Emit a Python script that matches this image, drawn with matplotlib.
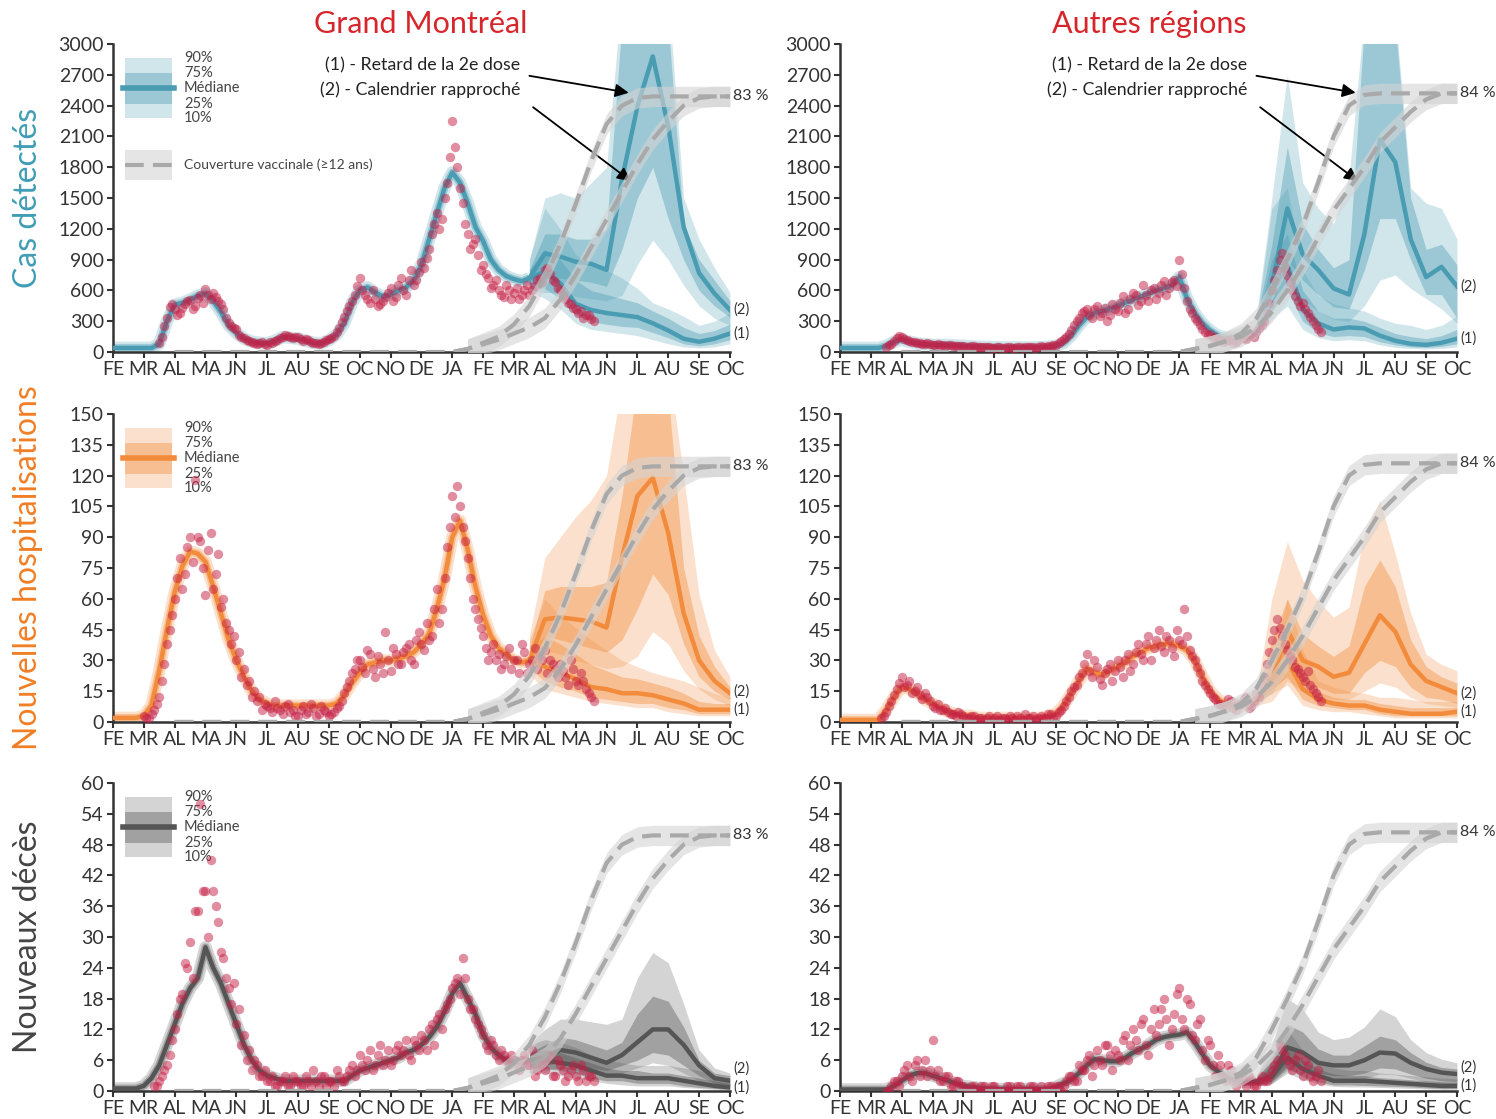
import numpy as np
import matplotlib
matplotlib.use("Agg")
import matplotlib.pyplot as plt
from matplotlib.patches import Rectangle

plt.rcParams['font.family'] = ['Lato', 'DejaVu Sans']

# x axis: months since 1 Feb 2020 (FE 2020 = 0 ... OC 2021 = 20)
months = ['FE', 'MR', 'AL', 'MA', 'JN', 'JL', 'AU', 'SE', 'OC', 'NO', 'DE', 'JA',
          'FE', 'MR', 'AL', 'MA', 'JN', 'JL', 'AU', 'SE', 'OC']
fit_x = np.arange(55) * 0.25          # model fit, weekly, up to mid MR 2021
scen_x = 13.5 + np.arange(14) * 0.5   # scenarios, mid MR 2021 -> OC 2021
cov_x = 2 + np.arange(37) * 0.5       # vaccine coverage

# ---------------- Cas détectés - Grand Montréal
cas_mtl_fit = [40, 40, 40, 40, 40, 40,
               80, 300, 460, 480, 510, 550, 570, 500, 390, 260,
               185, 130, 100, 90, 85, 110, 145, 140, 130, 110,
               90, 85, 115, 170, 280, 480, 600, 630, 580, 540,
               560, 600, 630, 700, 850, 1100, 1350, 1600, 1750, 1650,
               1450, 1220, 1080, 900, 800, 740, 710, 690, 720]
# observed cases, two interleaved series (every ~5 days each)
cas_mtl_obs = [90, 250, 440, 420, 380, 470, 510, 450, 560, 610,
               520, 540, 470, 330, 250, 220, 150, 120, 100, 80,
               95, 70, 90, 120, 150, 160, 140, 145, 110, 120,
               90, 80, 100, 130, 160, 230, 340, 450, 560, 720,
               560, 480, 520, 470, 540, 620, 540, 720, 560, 800,
               700, 880, 920, 1150, 1350, 1300, 1650, 2250, 1800, 1450,
               1150, 1050, 950, 850, 720, 650, 600, 540, 600, 580,
               520, 600, 560, 640, 720, 800, 760, 680, 600, 520,
               470, 420, 400, 360, 320]
cas_mtl_obs2 = [150, 330, 470, 360, 430, 500, 420, 530, 480, 560,
                580, 500, 420, 280, 230, 170, 140, 110, 85, 90,
                75, 100, 110, 140, 165, 150, 150, 125, 130, 100,
                85, 90, 115, 140, 200, 290, 400, 500, 640, 600,
                520, 600, 450, 500, 580, 500, 650, 600, 700, 650,
                780, 820, 1000, 1250, 1200, 1500, 1900, 2000, 1600, 1250,
                1000, 1100, 800, 760, 620, 700, 560, 650, 520, 620,
                560, 650, 600, 700, 680, 820, 700, 620, 560, 480,
                430, 380, 330, 360, 300]
# rows: p10, p25, median, p75, p90
cas_mtl_s1 = [[600, 520, 420, 280, 220, 200, 180, 160, 120, 80, 50, 40, 50, 80],
              [660, 620, 520, 360, 300, 270, 250, 240, 190, 140, 80, 60, 80, 120],
              [720, 780, 670, 470, 410, 380, 360, 340, 280, 210, 130, 100, 130, 180],
              [800, 1000, 900, 700, 600, 560, 520, 480, 400, 330, 240, 180, 210, 270],
              [900, 1400, 1200, 950, 850, 800, 720, 620, 480, 420, 350, 260, 300, 380]]
cas_mtl_s2 = [[600, 580, 580, 540, 520, 500, 550, 850, 1090, 900, 650, 450, 330, 260],
              [660, 700, 720, 700, 680, 640, 1000, 1500, 1800, 1300, 900, 600, 450, 340],
              [720, 960, 930, 880, 860, 800, 1680, 2390, 2880, 2200, 1220, 770, 570, 410],
              [800, 1150, 1150, 1100, 1100, 1200, 3200, 3800, 3800, 3200, 1250, 900, 700, 500],
              [900, 1500, 1550, 1500, 1650, 1800, 3500, 4000, 4000, 3500, 1500, 1100, 820, 580]]

# ---------------- Cas détectés - Autres régions
cas_reg_fit = [40, 40, 40, 40, 40, 40,
               60, 100, 120, 100, 85, 75, 70, 70, 68, 65,
               60, 55, 52, 50, 48, 45, 45, 45, 45, 45,
               48, 50, 60, 90, 160, 260, 340, 380, 400, 420,
               450, 480, 510, 540, 570, 600, 620, 650, 730, 520,
               380, 280, 210, 160, 140, 130, 140, 160, 200]
cas_reg_obs = [50, 80, 140, 150, 120, 100, 90, 80, 85, 70,
               75, 65, 70, 60, 55, 60, 50, 55, 45, 50,
               45, 40, 45, 40, 45, 40, 50, 45, 50, 40,
               55, 45, 60, 70, 110, 150, 210, 300, 380, 420,
               330, 450, 380, 300, 470, 400, 550, 420, 580, 460,
               650, 500, 620, 580, 690, 620, 700, 900, 620, 420,
               330, 260, 200, 180, 150, 120, 110, 130, 100, 150,
               130, 180, 200, 260, 380, 600, 800, 960, 750, 600,
               500, 480, 380, 300, 220]
cas_reg_obs2 = [70, 110, 160, 130, 110, 95, 85, 75, 80, 65,
                70, 60, 65, 55, 60, 50, 55, 45, 50, 45,
                40, 45, 40, 45, 40, 45, 40, 50, 45, 50,
                50, 55, 65, 90, 130, 180, 260, 330, 400, 360,
                420, 350, 430, 360, 420, 480, 380, 520, 560, 500,
                560, 600, 520, 650, 560, 680, 640, 760, 500, 380,
                300, 220, 170, 140, 130, 100, 120, 90, 120, 140,
                160, 150, 230, 300, 480, 700, 900, 820, 680, 550,
                450, 420, 340, 260, 200]
cas_reg_s1 = [[150, 320, 450, 220, 140, 110, 120, 110, 70, 45, 35, 30, 35, 50],
              [170, 400, 600, 300, 190, 150, 160, 150, 100, 70, 50, 45, 55, 80],
              [200, 600, 850, 420, 280, 220, 240, 230, 160, 110, 80, 70, 90, 130],
              [250, 900, 1150, 600, 400, 330, 330, 300, 240, 180, 150, 130, 160, 220],
              [300, 1400, 1600, 800, 550, 470, 430, 400, 330, 280, 260, 220, 260, 350]]
cas_reg_s2 = [[150, 380, 650, 500, 400, 320, 300, 450, 700, 750, 620, 520, 420, 280],
              [170, 450, 900, 700, 560, 440, 420, 800, 1300, 1300, 900, 560, 560, 330],
              [200, 650, 1400, 950, 800, 620, 560, 1150, 2070, 1850, 1100, 730, 830, 640],
              [300, 1050, 2000, 1250, 1000, 820, 900, 3200, 3400, 3200, 1500, 1000, 1050, 850],
              [350, 1500, 2700, 1650, 1400, 1250, 1700, 3300, 3600, 3300, 1600, 1450, 1400, 1100]]

# ---------------- Nouvelles hospitalisations - Grand Montréal
hos_mtl_fit = [2, 2, 2, 2, 3, 8,
               25, 45, 63, 76, 83, 82, 78, 66, 53, 40,
               30, 22, 15, 11, 9, 8, 8, 8, 8, 8,
               8, 8, 8, 9, 13, 19, 24, 28, 29, 30,
               30, 31, 32, 34, 38, 43, 55, 70, 90, 98,
               84, 66, 52, 42, 36, 33, 30, 29, 30]
hos_mtl_obs = [3, 2, 6, 12, 28, 45, 60, 80, 72, 90,
               118, 88, 62, 92, 72, 56, 48, 38, 30, 22,
               18, 12, 10, 6, 8, 5, 7, 4, 9, 6,
               3, 8, 5, 7, 4, 6, 3, 5, 8, 14,
               20, 26, 30, 24, 33, 22, 28, 44, 25, 33,
               28, 36, 30, 40, 38, 48, 42, 65, 55, 85,
               110, 115, 95, 80, 60, 50, 42, 30, 38, 33,
               28, 36, 30, 24, 34, 28, 36, 32, 35, 30,
               26, 28, 22, 30, 20, 24, 16, 12]
hos_mtl_obs2 = [2, 4, 9, 20, 38, 52, 70, 65, 85, 78,
                90, 75, 84, 65, 82, 60, 45, 42, 34, 26,
                20, 15, 12, 9, 7, 10, 6, 8, 5, 3,
                6, 4, 9, 3, 8, 5, 4, 7, 10, 17,
                24, 30, 27, 35, 26, 32, 24, 30, 36, 28,
                34, 38, 28, 44, 35, 40, 55, 48, 70, 95,
                100, 105, 88, 70, 55, 46, 36, 34, 30, 26,
                32, 26, 30, 38, 24, 30, 26, 30, 24, 28,
                22, 25, 18, 26, 18, 20, 14, 10]
hos_mtl_s1 = [[23, 16, 14, 12, 10, 9, 8, 7, 7, 5, 4, 3, 3, 3],
              [26, 20, 17, 15, 12, 11, 10, 9, 9, 7, 6, 4, 4, 4],
              [30, 27, 24, 21, 17, 16, 14, 14, 13, 11, 9, 6, 6, 6],
              [35, 42, 38, 33, 28, 25, 22, 21, 19, 17, 14, 10, 9, 9],
              [40, 60, 52, 46, 40, 35, 30, 27, 24, 22, 20, 17, 14, 12]]
hos_mtl_s2 = [[24, 35, 33, 30, 28, 26, 27, 32, 44, 38, 25, 16, 11, 8],
              [27, 42, 40, 38, 36, 34, 40, 55, 72, 62, 38, 22, 15, 11],
              [30, 50, 51, 50, 49, 46, 80, 110, 119, 92, 53, 30, 20, 14],
              [36, 64, 66, 66, 66, 68, 110, 165, 170, 160, 75, 42, 27, 17],
              [42, 80, 90, 100, 108, 120, 165, 180, 180, 175, 120, 62, 35, 22]]

# ---------------- Nouvelles hospitalisations - Autres régions
hos_reg_fit = [1, 1, 1, 1, 1, 1,
               6, 12, 17, 16, 14, 11, 9, 7, 5, 4,
               3, 3, 2, 2, 2, 2, 2, 2, 2, 2,
               2, 3, 4, 8, 14, 20, 26, 24, 23, 25,
               27, 29, 32, 34, 36, 37, 38, 38, 37, 35,
               30, 22, 15, 11, 9, 8, 8, 9, 11]
hos_reg_obs = [2, 5, 10, 16, 22, 18, 14, 17, 11, 12,
               8, 9, 6, 5, 4, 5, 3, 2, 3, 2,
               1, 3, 2, 1, 2, 3, 1, 2, 4, 2,
               1, 3, 2, 4, 3, 6, 10, 15, 18, 24,
               33, 22, 27, 18, 26, 20, 30, 22, 33, 28,
               38, 30, 42, 36, 45, 34, 40, 32, 40, 55,
               35, 30, 24, 18, 14, 11, 9, 7, 10, 6,
               9, 12, 8, 14, 18, 28, 40, 50, 42, 35,
               30, 26, 22, 25, 16, 12]
hos_reg_obs2 = [3, 8, 13, 19, 17, 20, 15, 13, 14, 10,
                7, 6, 7, 4, 3, 4, 2, 3, 1, 2,
                2, 1, 3, 2, 1, 2, 3, 1, 2, 3,
                2, 2, 4, 2, 5, 8, 12, 17, 22, 28,
                25, 30, 21, 24, 28, 25, 27, 30, 25, 34,
                33, 38, 30, 40, 37, 42, 36, 45, 38, 42,
                32, 27, 20, 16, 12, 9, 8, 11, 7, 9,
                11, 7, 10, 12, 22, 34, 45, 46, 38, 32,
                27, 24, 20, 18, 14, 10]
hos_reg_s1 = [[9, 14, 18, 8, 6, 5, 5, 4, 3, 2, 2, 2, 2, 2],
              [10, 16, 22, 11, 8, 7, 6, 6, 4, 3, 3, 3, 3, 3],
              [11, 20, 30, 16, 11, 9, 8, 8, 6, 5, 4, 4, 4, 5],
              [13, 24, 45, 22, 15, 12, 11, 11, 9, 8, 7, 7, 7, 7],
              [15, 30, 60, 35, 20, 17, 15, 14, 12, 12, 11, 10, 10, 10]]
hos_reg_s2 = [[8, 10, 20, 15, 13, 11, 11, 15, 19, 17, 12, 9, 8, 7],
              [10, 14, 27, 19, 17, 14, 14, 24, 30, 27, 17, 12, 11, 9],
              [11, 20, 45, 30, 27, 22, 24, 38, 52, 44, 28, 20, 17, 14],
              [13, 40, 60, 43, 37, 32, 37, 66, 79, 66, 40, 27, 22, 19],
              [15, 60, 88, 69, 59, 51, 56, 92, 108, 82, 53, 33, 28, 25]]

# ---------------- Nouveaux décès - Grand Montréal
dec_mtl_fit = [0.5, 0.5, 0.5, 0.5, 1, 2.5,
               5, 9, 13, 17, 20, 22, 28, 24, 21, 17,
               13, 9, 6, 4, 3, 2.5, 2, 2, 2, 2,
               2, 2, 2, 2, 2, 3, 4, 4.5, 5, 5.5,
               6, 6.5, 7.5, 8, 9, 10.5, 12.5, 15.5, 19, 21,
               18, 15, 11, 8.5, 7, 6, 5.5, 5.5, 6]
dec_mtl_obs = [1, 2, 4, 7, 12, 18, 25, 29, 35, 56,
               39, 45, 36, 27, 22, 17, 13, 9, 6, 4,
               5, 3, 2, 3, 1, 2, 1, 3, 2, 1,
               2, 4, 1, 3, 2, 1, 3, 2, 4, 3,
               7, 4, 8, 5, 9, 6, 5, 8, 7, 10,
               6, 9, 11, 8, 13, 14, 12, 17, 20, 22,
               26, 18, 16, 13, 11, 8, 9, 6, 7, 5,
               6, 4, 7, 5, 3, 6, 4, 7, 3, 5,
               2, 4, 3, 5, 2, 3]
dec_mtl_obs2 = [1, 3, 5, 10, 15, 19, 24, 22, 35, 39,
                30, 39, 33, 26, 20, 21, 16, 11, 8, 6,
                3, 4, 2, 1, 2, 3, 1, 2, 1, 3,
                1, 2, 3, 1, 2, 4, 2, 3, 5, 4,
                5, 6, 4, 7, 5, 8, 6, 9, 8, 7,
                10, 8, 10, 12, 9, 15, 16, 18, 21, 19,
                22, 16, 14, 12, 9, 10, 7, 8, 6, 7,
                5, 6, 5, 8, 4, 5, 6, 3, 6, 4,
                3, 5, 2, 4, 3, 2]
dec_mtl_s1 = [[3.5, 3.5, 3, 2.5, 2, 1.5, 1.2, 1, 1, 1, 0.7, 0.5, 0.3, 0.2],
              [4.5, 4.5, 4, 3.5, 2.5, 2, 2, 1.5, 1.5, 1.5, 1, 0.7, 0.5, 0.3],
              [6, 6, 5.5, 5, 4, 3, 3, 2.5, 2.5, 2.5, 2, 1.5, 1, 0.7],
              [7.5, 8, 7.5, 6.5, 5.5, 4.5, 4, 4, 3.5, 3.5, 3, 2.5, 2, 1.5],
              [9, 10, 9.5, 8.5, 7, 6, 5.5, 5, 5, 5, 4.5, 4, 3, 2.5]]
dec_mtl_s2 = [[3.5, 4, 4.5, 4, 3.5, 3, 3.5, 4.5, 5.5, 5, 3.5, 2, 1, 0.5],
              [4.5, 5, 5.5, 5, 4.5, 4, 5, 6, 7.5, 7, 5, 3, 1.5, 1],
              [6, 6.5, 8, 7.5, 6.5, 5.5, 7, 9.5, 12, 12, 9, 5, 2.5, 2],
              [7.5, 9, 10.5, 10, 9, 8, 9.5, 15, 18.5, 17.5, 12.5, 6, 3.5, 3],
              [9, 12, 14, 14, 13.5, 13, 14, 22, 27, 25, 17, 8, 4.5, 3.5]]

# ---------------- Nouveaux décès - Autres régions
dec_reg_fit = [0.3, 0.3, 0.3, 0.3, 0.3, 0.3,
               0.3, 1, 2, 3, 3.5, 3.5, 3, 2.5, 2, 1.5,
               1, 0.8, 0.6, 0.5, 0.4, 0.4, 0.4, 0.4, 0.4, 0.4,
               0.4, 0.4, 0.8, 1.5, 2.2, 3.5, 5, 6.2, 6, 5.8,
               5.8, 6.5, 7.5, 8.2, 9, 10, 10.5, 10.8, 11, 11.4,
               9.5, 7.2, 5, 3.8, 2.8, 2.2, 1.9, 1.7, 1.8]
dec_reg_obs = [0, 1, 2, 3, 5, 2, 6, 4, 3, 10,
               4, 2, 3, 1, 2, 1, 0, 1, 0, 1,
               0, 1, 0, 0, 1, 0, 1, 0, 1, 0,
               1, 0, 1, 1, 0, 2, 3, 2, 4, 6,
               3, 8, 5, 9, 4, 7, 10, 6, 12, 8,
               14, 7, 16, 13, 18, 9, 15, 20, 12, 17,
               10, 14, 6, 9, 3, 5, 2, 4, 1, 3,
               1, 2, 1, 3, 2, 4, 6, 8, 6, 4,
               7, 3, 5, 2, 4]
dec_reg_obs2 = [0, 2, 1, 4, 3, 5, 3, 6, 4, 3,
                2, 3, 1, 2, 1, 0, 1, 0, 1, 0,
                1, 0, 0, 1, 0, 1, 0, 0, 1, 0,
                0, 1, 0, 1, 1, 3, 2, 5, 4, 7,
                5, 6, 9, 7, 8, 6, 11, 9, 10, 13,
                9, 12, 11, 16, 14, 12, 19, 14, 18, 11,
                13, 8, 10, 5, 7, 3, 5, 2, 3, 2,
                3, 1, 2, 2, 3, 5, 9, 7, 5, 6,
                4, 6, 3, 3, 2]
dec_reg_s1 = [[1, 1.4, 3.5, 2.2, 1.4, 0.9, 0.8, 0.8, 0.7, 0.6, 0.5, 0.4, 0.3, 0.3],
              [1.2, 1.8, 4.5, 2.8, 1.8, 1.2, 1.2, 1.1, 1, 0.9, 0.8, 0.6, 0.5, 0.5],
              [1.8, 2.8, 6.5, 4.3, 3, 2, 2, 2, 1.8, 1.6, 1.4, 1.2, 1, 1],
              [2.5, 5, 9, 6, 4.3, 3.3, 3, 3, 2.6, 2.4, 2.2, 2, 1.8, 1.7],
              [3, 7, 12, 8, 6, 4.5, 4, 4, 3.5, 3.3, 3, 2.8, 2.5, 2.4]]
dec_reg_s2 = [[1, 1.5, 4, 3.5, 2.7, 2.2, 2.2, 2.5, 3.3, 3.2, 2.5, 1.8, 1.4, 1.2],
              [1.2, 2, 5, 4.5, 3.5, 3, 3, 3.5, 4.5, 4.3, 3.3, 2.5, 2, 1.8],
              [1.8, 3, 8.5, 7.5, 5.5, 5, 5, 6, 7.5, 7.3, 5.5, 4.3, 3.6, 3.3],
              [2.5, 6, 13, 11.5, 8.2, 7, 7, 8.8, 10.7, 10, 7.5, 5.6, 4.6, 4.3],
              [3, 9, 18, 16, 11.5, 10, 10.5, 12.5, 16, 14.5, 10, 7.5, 6.2, 5.5]]

# ---------------- Couverture vaccinale (>=12 ans), fraction
cov_mtl_1 = [0.0] * 19 + [0.01, 0.03, 0.05, 0.09, 0.15, 0.24, 0.35, 0.48, 0.62,
                          0.74, 0.80, 0.825, 0.83, 0.83, 0.83, 0.83, 0.83, 0.83]
cov_mtl_2 = [0.0] * 19 + [0.01, 0.025, 0.04, 0.06, 0.08, 0.11, 0.17, 0.25, 0.34,
                          0.43, 0.52, 0.61, 0.69, 0.75, 0.80, 0.825, 0.83, 0.83]
cov_reg_1 = [0.0] * 19 + [0.01, 0.02, 0.035, 0.06, 0.11, 0.20, 0.30, 0.41, 0.55,
                          0.70, 0.80, 0.835, 0.84, 0.84, 0.84, 0.84, 0.84, 0.84]
cov_reg_2 = [0.0] * 19 + [0.01, 0.02, 0.035, 0.05, 0.08, 0.13, 0.20, 0.28, 0.37,
                          0.46, 0.53, 0.60, 0.68, 0.73, 0.78, 0.82, 0.84, 0.84]
cov_spread = 0.033   # half-width of the coverage uncertainty band

rows = [  # ymax, step, colour, label colour, label
    (3000, 300, '#4a9cb2', '#3f9db5', 'Cas détectés'),
    (150, 15, '#f28b3b', '#f07f26', 'Nouvelles hospitalisations'),
    (60, 6, '#555555', '#444444', 'Nouveaux décès'),
]
panels = [
    (0, 0, cas_mtl_fit, cas_mtl_obs, cas_mtl_obs2, 1.5, cas_mtl_s1, cas_mtl_s2, cov_mtl_1, cov_mtl_2),
    (0, 1, cas_reg_fit, cas_reg_obs, cas_reg_obs2, 1.5, cas_reg_s1, cas_reg_s2, cov_reg_1, cov_reg_2),
    (1, 0, hos_mtl_fit, hos_mtl_obs, hos_mtl_obs2, 1.0, hos_mtl_s1, hos_mtl_s2, cov_mtl_1, cov_mtl_2),
    (1, 1, hos_reg_fit, hos_reg_obs, hos_reg_obs2, 4 / 3, hos_reg_s1, hos_reg_s2, cov_reg_1, cov_reg_2),
    (2, 0, dec_mtl_fit, dec_mtl_obs, dec_mtl_obs2, 4 / 3, dec_mtl_s1, dec_mtl_s2, cov_mtl_1, cov_mtl_2),
    (2, 1, dec_reg_fit, dec_reg_obs, dec_reg_obs2, 1.5, dec_reg_s1, dec_reg_s2, cov_reg_1, cov_reg_2),
]

lefts = [0.0755, 0.5615]
bottoms = [0.6854, 0.3548, 0.0250]
W, H = 0.4124, 0.2752
INK = '#333333'
OBS = '#c41e45'

fig = plt.figure(figsize=(14.96, 11.19), dpi=100)

for r, c, fit, obs, obs2, obs_start, s1, s2, cov1, cov2 in panels:
    ymax, ystep, col, labcol, ylabel = rows[r]
    ax = fig.add_axes([lefts[c], bottoms[r], W, H])
    ax.set_xlim(0, 20)
    ax.set_ylim(0, ymax)
    ax.set_xticks(np.arange(21))
    ax.set_xticklabels(months)
    ax.set_yticks(np.arange(0, ymax + 1, ystep))
    for s in ('top', 'right'):
        ax.spines[s].set_visible(False)
    for s in ('left', 'bottom'):
        ax.spines[s].set_linewidth(1.8)
        ax.spines[s].set_color(INK)
    ax.tick_params(direction='out', length=4.5, width=1.5, labelsize=14,
                   color=INK, labelcolor=INK, pad=2)

    # fitted period: narrow uncertainty as wide translucent strokes
    ax.plot(fit_x, fit, color=col, lw=9, alpha=0.25, solid_capstyle='butt', zorder=2)
    ax.plot(fit_x, fit, color=col, lw=5.5, alpha=0.4, solid_capstyle='butt', zorder=2)
    for sc in (s1, s2):
        ax.fill_between(scen_x, sc[0], sc[4], color=col, alpha=0.25, lw=0, zorder=2)
        ax.fill_between(scen_x, sc[1], sc[3], color=col, alpha=0.4, lw=0, zorder=2)
    ax.plot(fit_x, fit, color=col, lw=3.2, zorder=3)
    for sc in (s1, s2):
        ax.plot(scen_x, sc[2], color=col, lw=3.2, zorder=3)

    ax.scatter(obs_start + np.arange(len(obs)) / 6, obs, s=46, color=OBS,
               alpha=0.5, lw=0, zorder=4)
    ax.scatter(obs_start + 1 / 12 + np.arange(len(obs2)) / 6, obs2, s=46, color=OBS,
               alpha=0.5, lw=0, zorder=4)

    # scenario labels at the right end
    e1, e2 = s1[2][-1], s2[2][-1]
    ax.text(20.12, max(e2, e1 + 0.06 * ymax), '(2)', va='center', fontsize=10.5,
            color=INK, clip_on=False)
    ax.text(20.12, e1, '(1)', va='center', fontsize=10.5, color=INK, clip_on=False)

    # vaccine coverage on its own 0-1 scale
    ax2 = ax.twinx()
    ax2.set_ylim(0, 1)
    ax2.set_axis_off()
    for cv in (cov1, cov2):
        cv = np.asarray(cv)
        ax2.fill_between(cov_x, cv - cov_spread, cv + cov_spread, where=cv > 0,
                         color='#d4d4d4', alpha=0.6, lw=0)
    for cv in (cov1, cov2):
        ax2.plot(cov_x, cv, color='#a9a9a9', lw=3, dashes=(4.5, 2.2))
    ax2.text(20.1, cov1[-1], f'{round(cov1[-1] * 100)} %', va='center',
             fontsize=11.5, color=INK, clip_on=False)

    if r == 0:
        ax.text(13.2, 0.932 * ymax, '(1) - Retard de la 2e dose', ha='right',
                va='center', fontsize=12.8, color='#222222')
        ax.text(13.2, 0.851 * ymax, '(2) - Calendrier rapproché', ha='right',
                va='center', fontsize=12.8, color='#222222')
        arrow = dict(arrowstyle='-|>', color='black', lw=1.3, mutation_scale=20,
                     shrinkA=0, shrinkB=0)
        ax.annotate('', xy=(16.72, 0.842 * ymax), xytext=(13.5, 0.897 * ymax),
                    arrowprops=arrow)
        ax.annotate('', xy=(16.79, 0.555 * ymax), xytext=(13.62, 0.795 * ymax),
                    arrowprops=arrow)

    if c == 0:
        tr = ax.transAxes
        ax.add_patch(Rectangle((0.0194, 0.7597), 0.0762, 0.1948, transform=tr,
                               color=col, alpha=0.25, lw=0))
        ax.add_patch(Rectangle((0.0194, 0.8052), 0.0762, 0.1006, transform=tr,
                               color=col, alpha=0.4, lw=0))
        ax.plot([0.0162, 0.0989], [0.857, 0.857], transform=tr, color=col, lw=4)
        for yy, t in zip([0.9545, 0.9058, 0.857, 0.8052, 0.7597],
                         ['90%', '75%', 'Médiane', '25%', '10%']):
            ax.text(0.115, yy, t, transform=tr, va='center', fontsize=10.5, color='#444444')
        if r == 0:
            ax.add_patch(Rectangle((0.0194, 0.558), 0.0762, 0.098, transform=tr,
                                   color='#d4d4d4', alpha=0.6, lw=0))
            ax.plot([0.0194, 0.0956], [0.607, 0.607], transform=tr, color='#a9a9a9',
                    lw=3, dashes=(4.5, 2.2))
            ax.text(0.115, 0.607, 'Couverture vaccinale (≥12 ans)', transform=tr,
                    va='center', fontsize=10, color='#444444')

        fig.text(0.0187, bottoms[r] + H / 2, ylabel, rotation=90, ha='center',
                 va='center', fontsize=23, color=labcol)

fig.text(0.2814, 0.9786, 'Grand Montréal', ha='center', va='center', fontsize=22,
         color='#d7262b')
fig.text(0.768, 0.9786, 'Autres régions', ha='center', va='center', fontsize=22,
         color='#d7262b')

fig.savefig('out.png', dpi=100)
